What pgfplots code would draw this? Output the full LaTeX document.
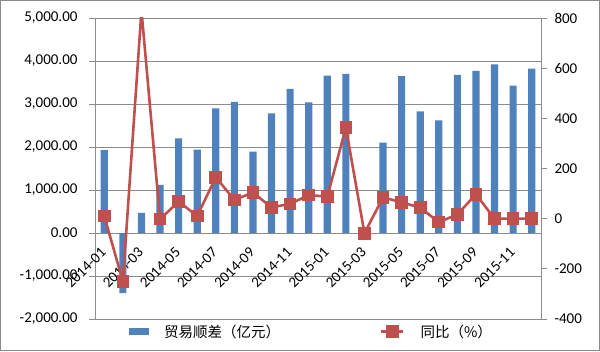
\documentclass[border=0pt]{standalone}
\usepackage{pgfplots}
\pgfplotsset{compat=1.18}
\usepackage{fontspec}
\setmainfont{Carlito}
\newfontfamily\cjk{Noto Sans CJK SC}
\definecolor{barblue}{HTML}{4F81BD}
\definecolor{linered}{HTML}{C0504D}
\definecolor{gridgray}{HTML}{8C8C8C}
\definecolor{framegray}{HTML}{8A8A8A}
\begin{document}
\begin{tikzpicture}
\pgfplotsset{
  base/.style={scale only axis, width=446pt, height=301pt, xmin=0.5, xmax=24.5,
    font=\fontsize{15}{18}\selectfont,
    /pgf/number format/assume math mode=true,
    axis line style={gridgray, line width=0.8pt},
    every tick/.style={gridgray, line width=0.8pt},
    major tick length=6pt}
}
\begin{axis}[base,
  ymin=-2000, ymax=5000, ytick={-2000,-1000,...,5000},
  ymajorgrids, grid style={gridgray, line width=0.8pt},
  axis x line*=middle, axis y line*=left,
  yticklabel style={/pgf/number format/fixed, /pgf/number format/fixed zerofill, /pgf/number format/precision=2, /pgf/number format/1000 sep={,}, xshift=-8pt},
  ytick align=outside,
  xtick={1,3,...,23},
  xticklabels={2014-01,2014-03,2014-05,2014-07,2014-09,2014-11,2015-01,2015-03,2015-05,2015-07,2015-09,2015-11},
  xtick style={draw=none},
  xticklabel style={xshift=0pt, yshift=-16pt, rotate=45, anchor=east, inner sep=1pt},
  extra x ticks={2.5,4.5,...,22.5}, extra x tick labels={},
  extra x tick style={tick align=outside, xtick style={gridgray, line width=0.8pt}, grid=none},
]
\addplot[ybar, bar width=0.39, fill=barblue, draw=none] coordinates {
(1,1930) (2,-1400) (3,470) (4,1120) (5,2200) (6,1940) (7,2900) (8,3050)
(9,1890) (10,2780) (11,3350) (12,3040) (13,3660) (14,3700) (15,20) (16,2100)
(17,3650) (18,2830) (19,2620) (20,3680) (21,3770) (22,3920) (23,3430) (24,3820)
};
\end{axis}
\begin{axis}[base,
  ymin=-400, ymax=800, ytick={-400,-200,...,800},
  axis x line=none, axis y line*=right, ytick align=outside,
  yticklabel style={xshift=4pt},
  legend style={at={(0.485,-0.042)}, anchor=center, draw=none, fill=none,
    legend columns=2, font=\cjk\fontsize{14.5}{16}\selectfont,
    /tikz/every odd column/.append style={column sep=14pt},
    /tikz/every even column/.append style={column sep=98pt}},
]
\addlegendimage{legend image code/.code={\fill[barblue] (0pt,-3pt) rectangle (19pt,3pt);}}
\addlegendentry{贸易顺差（亿元）}
\addplot[linered, line width=2.6pt, mark=square*, mark size=5pt, mark options={solid, fill=linered},
  legend image code/.code={\draw[linered, line width=2.6pt] (0pt,0pt) -- (22pt,0pt); \fill[linered] (6pt,-5pt) rectangle (16pt,5pt);}] coordinates {
(1,10) (2,-250) (3,830) (4,-2) (5,68) (6,11) (7,165) (8,75)
(9,104) (10,45) (11,59) (12,94) (13,88) (14,363) (15,-58) (16,85)
(17,65) (18,44) (19,-14) (20,17) (21,97) (22,0) (23,0) (24,0)
};
\addlegendentry{同比（\%）}
\end{axis}
\pgfresetboundingbox
\useasboundingbox (-95pt,-32pt) rectangle (505pt,319pt);
\draw[framegray, line width=1.5pt] (-94.25pt,-31.25pt) rectangle (504.25pt,318.25pt);
\end{tikzpicture}
\end{document}
